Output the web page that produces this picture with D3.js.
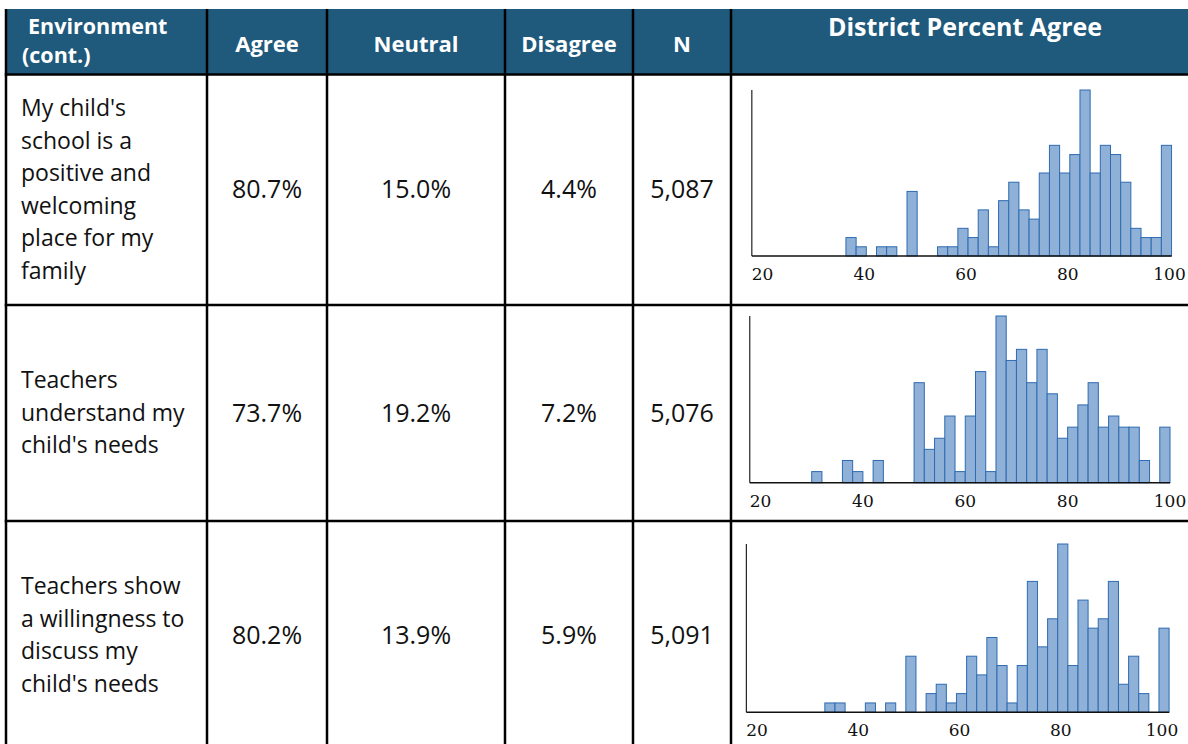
<!DOCTYPE html>
<html>
<head>
<meta charset="utf-8">
<script src="https://cdn.jsdelivr.net/npm/d3@7"></script>
<style>
  html, body { margin: 0; padding: 0; background: #ffffff; }
  svg { display: block; }
</style>
</head>
<body>
<svg id="chart" width="1188" height="744"></svg>
<script>
// ---------------- DATA ----------------
const headerLabels = ["Agree", "Neutral", "Disagree", "N"];
const firstHeader = ["Environment", "(cont.)"];
const histHeader = "District Percent Agree";

const questions = [
  ["My child's", "school is a", "positive and", "welcoming", "place for my", "family"],
  ["Teachers", "understand my", "child's needs"],
  ["Teachers show", "a willingness to", "discuss my", "child's needs"]
];
const agreePct    = [80.7, 73.7, 80.2];
const neutralPct  = [15.0, 19.2, 13.9];
const disagreePct = [4.4, 7.2, 5.9];
const nCounts     = [5087, 5076, 5091];

const xTickValues = [20, 40, 60, 80, 100];
const binWidth = 2;
// histogram bin counts (district schools per 2-point bin of percent agree)
const hist1Start = 36.5;
const hist1Counts = [2,1,0,1,1,0,7,0,0,1,1,3,2,5,1,6,8,5,4,9,12,9,11,18,9,12,11,8,3,2,2,12];
const hist2Start = 30.1;
const hist2Counts = [1,0,0,2,1,0,2,0,0,0,9,3,4,6,1,6,10,1,15,11,12,9,12,8,4,5,7,9,5,6,5,5,2,0,5];
const hist3Start = 33.5;
const hist3Counts = [1,1,0,0,1,0,1,0,6,0,2,3,1,2,6,4,8,5,1,5,14,7,10,18,5,12,9,10,14,3,6,2,0,9];
const axisMin = 18;

// ---------------- LAYOUT ----------------
const colEdges = [6, 207, 327, 505, 633, 731, 1200];
const rowEdges = [9, 74.5, 305, 521, 750];
const headerColor = "#1f5a7c";
const lineW = 2.5;
const bodyFont = "'Open Sans', 'Noto Sans', sans-serif";
const histLayout = [
  { start: hist1Start, counts: hist1Counts, px20: 762,   px100: 1169,   base: 256,   top: 90 },
  { start: hist2Start, counts: hist2Counts, px20: 760,   px100: 1169.5, base: 482.7, top: 316 },
  { start: hist3Start, counts: hist3Counts, px20: 756.5, px100: 1161.5, base: 712.3, top: 544 }
];

const svg = d3.select("#chart");

// header background
svg.append("rect")
  .attr("x", colEdges[0]).attr("y", rowEdges[0])
  .attr("width", 1188 - colEdges[0]).attr("height", rowEdges[1] - rowEdges[0])
  .attr("fill", headerColor);

// header texts
const hdr = svg.append("g").attr("fill", "#ffffff")
  .attr("font-family", bodyFont).attr("font-weight", "bold").attr("font-size", 22);
hdr.append("text").attr("x", 28).attr("y", 34).attr("font-size", 21.5).text(firstHeader[0]);
hdr.append("text").attr("x", 22).attr("y", 63).attr("font-size", 21.5).text(firstHeader[1]);
headerLabels.forEach((lab, i) => {
  hdr.append("text")
    .attr("x", (colEdges[i + 1] + colEdges[i + 2]) / 2)
    .attr("y", 52)
    .attr("text-anchor", "middle")
    .text(lab);
});
hdr.append("text")
  .attr("x", 965)
  .attr("y", 36)
  .attr("text-anchor", "middle")
  .attr("font-size", 25)
  .text(histHeader);

// body rows
const fmtPct = d => d3.format(".1f")(d) + "%";
const fmtN = d3.format(",");
const body = svg.append("g").attr("fill", "#111111")
  .attr("font-family", bodyFont);

questions.forEach((lines, r) => {
  const cy = (rowEdges[r + 1] + rowEdges[r + 2]) / 2;
  lines.forEach((ln, k) => {
    body.append("text")
      .attr("x", 21)
      .attr("y", cy + 7.5 + (k - (lines.length - 1) / 2) * 32.5)
      .attr("font-size", 23)
      .text(ln);
  });
  const vals = [fmtPct(agreePct[r]), fmtPct(neutralPct[r]), fmtPct(disagreePct[r]), fmtN(nCounts[r])];
  vals.forEach((v, c) => {
    body.append("text")
      .attr("x", (colEdges[c + 1] + colEdges[c + 2]) / 2)
      .attr("y", cy + 8.5)
      .attr("text-anchor", "middle")
      .attr("font-size", 25)
      .text(v);
  });
});

// histograms
histLayout.forEach(h => {
  const x = d3.scaleLinear().domain([20, 100]).range([h.px20, h.px100]);
  const maxC = d3.max(h.counts);
  const y = d3.scaleLinear().domain([0, maxC]).range([h.base, h.top]);
  const g = svg.append("g");
  const bins = h.counts.map((c, i) => ({ x0: h.start + i * binWidth, x1: h.start + (i + 1) * binWidth, c }));
  g.selectAll("rect.bar").data(bins.filter(b => b.c > 0)).join("rect")
    .attr("class", "bar")
    .attr("x", b => x(b.x0))
    .attr("width", b => x(b.x1) - x(b.x0))
    .attr("y", b => y(b.c))
    .attr("height", b => y(0) - y(b.c))
    .attr("fill", "#8fb0d7")
    .attr("stroke", "#2e6bb2")
    .attr("stroke-width", 1);
  const endVal = bins[bins.length - 1].x1;
  // y axis line
  g.append("line")
    .attr("x1", x(axisMin)).attr("x2", x(axisMin))
    .attr("y1", y(0)).attr("y2", y(maxC))
    .attr("stroke", "#222").attr("stroke-width", 1.2);
  // x baseline
  g.append("line")
    .attr("x1", x(axisMin)).attr("x2", x(endVal))
    .attr("y1", y(0)).attr("y2", y(0))
    .attr("stroke", "#111").attr("stroke-width", 1.5);
  const ax = g.append("g")
    .attr("transform", `translate(0,${h.base})`)
    .call(d3.axisBottom(x).tickValues(xTickValues).tickSize(0).tickFormat(d3.format("d")));
  ax.select(".domain").remove();
  ax.selectAll("text")
    .attr("dy", null).attr("y", 24)
    .attr("fill", "#111")
    .attr("font-family", "'DejaVu Serif', 'Liberation Serif', serif")
    .attr("font-size", 17);
});

// grid lines (black borders)
const grid = svg.append("g").attr("stroke", "#000").attr("stroke-width", lineW);
colEdges.slice(0, 6).forEach(cx => {
  grid.append("line").attr("x1", cx).attr("x2", cx)
    .attr("y1", rowEdges[0]).attr("y2", 744);
});
rowEdges.slice(1, 4).forEach(ry => {
  grid.append("line").attr("x1", colEdges[0] - lineW / 2).attr("x2", 1188)
    .attr("y1", ry).attr("y2", ry);
});
</script>
</body>
</html>
